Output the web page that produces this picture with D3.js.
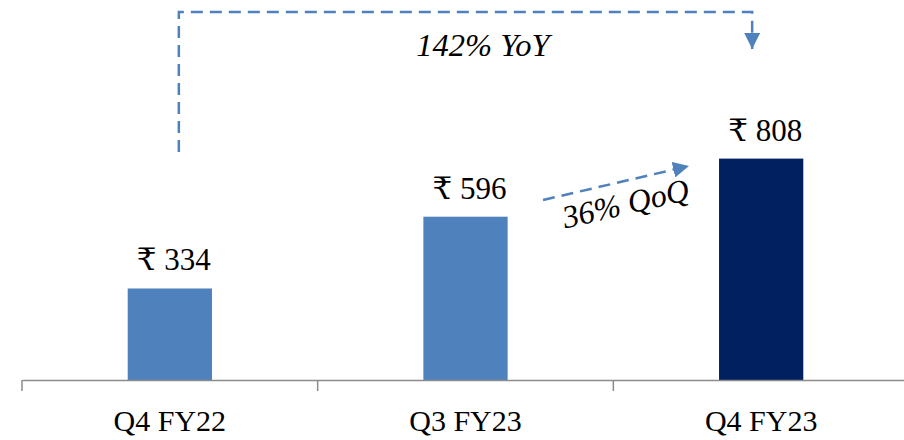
<!DOCTYPE html>
<html>
<head>
<meta charset="utf-8">
<script src="https://cdn.jsdelivr.net/npm/d3@7"></script>
<style>
  html, body { margin: 0; padding: 0; background: #fff; }
  svg text { font-family: "Liberation Serif", "DejaVu Serif", serif; fill: #000; }
</style>
</head>
<body>
<svg id="chart" width="904" height="440"></svg>
<script>
// données
const categories = ["Q4 FY22", "Q3 FY23", "Q4 FY23"];
const values = [334, 596, 808];
const barColors = ["#4f81bd", "#4f81bd", "#002060"];
const yoyLabel = "142% YoY";
const qoqLabel = "36% QoQ";

const svg = d3.select("#chart");
const baseY = 380;

const x = d3.scaleBand()
    .domain(categories)
    .range([22, 909])
    .padding(0);

const y = d3.scaleLinear()
    .domain([0, 1000])
    .range([baseY, baseY - 274]);

const barW = x.bandwidth() * 0.285;
const cx = d => x(d) + x.bandwidth() / 2;

// barres
svg.selectAll("rect.bar")
    .data(values)
    .enter()
    .append("rect")
    .attr("class", "bar")
    .attr("x", (d, i) => cx(categories[i]) - barW / 2)
    .attr("y", d => y(d))
    .attr("width", barW)
    .attr("height", d => y(0) - y(d))
    .attr("fill", (d, i) => barColors[i]);

// axe
const axis = d3.axisBottom(x).tickSize(0).tickFormat("");
const gAxis = svg.append("g")
    .attr("transform", `translate(0,${baseY})`)
    .call(axis);
gAxis.select(".domain").attr("stroke", "#8c8c8c").attr("stroke-width", 1.5);
gAxis.selectAll(".tick").remove();

const bounds = categories.map(c => x(c)).concat([x.range()[1]]);
gAxis.selectAll("line.sep")
    .data(bounds)
    .enter()
    .append("line")
    .attr("x1", d => d).attr("x2", d => d)
    .attr("y1", 0).attr("y2", 11)
    .attr("stroke", "#8c8c8c")
    .attr("stroke-width", 1.5);

svg.selectAll("text.cat")
    .data(categories)
    .enter()
    .append("text")
    .attr("class", "cat")
    .attr("x", d => cx(d))
    .attr("y", 431)
    .attr("text-anchor", "middle")
    .attr("font-size", 30)
    .text(d => d);

// étiquettes de valeurs
svg.selectAll("text.val")
    .data(values)
    .enter()
    .append("text")
    .attr("class", "val")
    .attr("x", (d, i) => cx(categories[i]) + 4)
    .attr("y", d => y(d) - 18)
    .attr("text-anchor", "middle")
    .attr("font-size", 31)
    .text(d => "₹ " + d);

// flèches
const blue = "#4f81bd";
const defs = svg.append("defs");
defs.append("marker")
    .attr("id", "arrow")
    .attr("viewBox", "0 0 10 10")
    .attr("refX", 10).attr("refY", 5)
    .attr("markerWidth", 6.4).attr("markerHeight", 6.4)
    .attr("markerUnits", "strokeWidth")
    .attr("orient", "auto")
    .append("path")
    .attr("d", "M0,0 L10,5 L0,10 Z")
    .attr("fill", blue);

const x0 = cx(categories[0]) + 9;
const x2 = cx(categories[2]) - 9;
svg.append("path")
    .attr("d", `M${x0},152 L${x0},12 L${x2},12 L${x2},49`)
    .attr("fill", "none")
    .attr("stroke", blue)
    .attr("stroke-width", 2.5)
    .attr("stroke-dasharray", "12,7")
    .attr("marker-end", "url(#arrow)");

svg.append("text")
    .attr("x", 483)
    .attr("y", 56)
    .attr("text-anchor", "middle")
    .attr("font-size", 32.5)
    .attr("font-style", "italic")
    .text(yoyLabel);

svg.append("line")
    .attr("x1", 543).attr("y1", 200)
    .attr("x2", 689).attr("y2", 166)
    .attr("stroke", blue)
    .attr("stroke-width", 2.5)
    .attr("stroke-dasharray", "12,7")
    .attr("marker-end", "url(#arrow)");

svg.append("text")
    .attr("transform", "translate(628,214) rotate(-13)")
    .attr("text-anchor", "middle")
    .attr("font-size", 32)
    .attr("font-style", "italic")
    .text(qoqLabel);
</script>
</body>
</html>
